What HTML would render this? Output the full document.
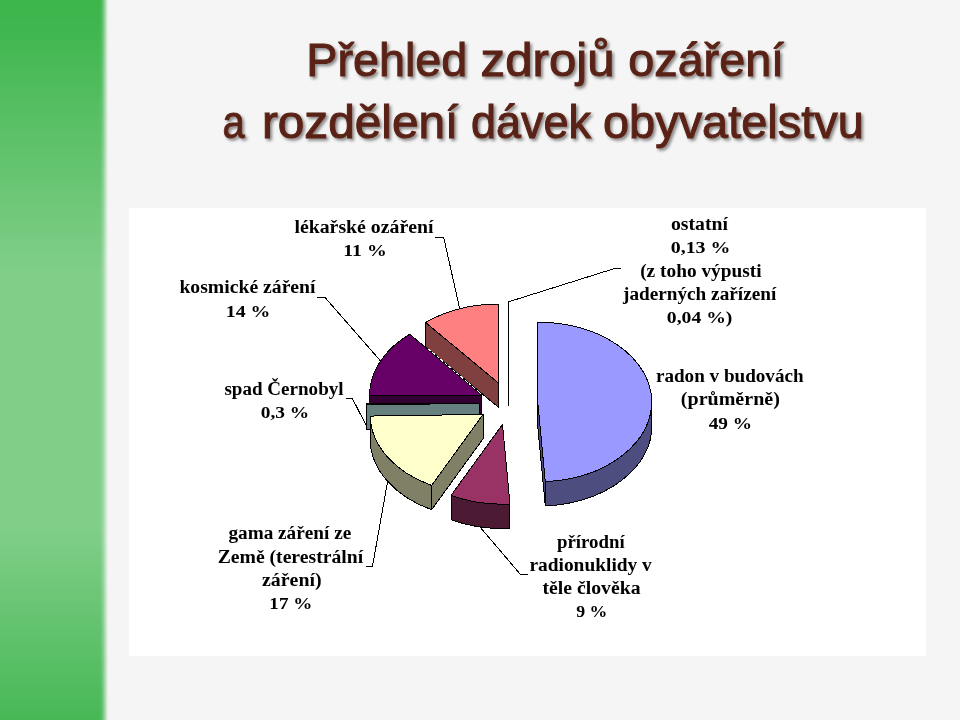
<!DOCTYPE html>
<html lang="cs"><head><meta charset="utf-8"><title>Přehled zdrojů ozáření</title>
<style>
html,body{margin:0;padding:0;}
body{width:960px;height:720px;overflow:hidden;background:#f5f5f5;position:relative;font-family:"Liberation Sans",sans-serif;}
#band{position:absolute;left:0;top:0;width:112px;height:720px;
background:linear-gradient(to bottom,#3cb54a 0px,#3fb64e 25px,#80ce88 270px,#80ce88 530px,#47b856 720px);
-webkit-mask-image:linear-gradient(to right,#000 0,#000 99.5px,rgba(0,0,0,.92) 101.5px,rgba(0,0,0,.7) 103.5px,rgba(0,0,0,.4) 105.5px,rgba(0,0,0,.15) 107px,transparent 108.6px);
mask-image:linear-gradient(to right,#000 0,#000 99.5px,rgba(0,0,0,.92) 101.5px,rgba(0,0,0,.7) 103.5px,rgba(0,0,0,.4) 105.5px,rgba(0,0,0,.15) 107px,transparent 108.6px);}
#chartbg{position:absolute;left:129px;top:208px;width:797px;height:448px;background:#fff;}
svg{position:absolute;left:0;top:0;}
.t{font-family:"Liberation Sans",sans-serif;font-size:46.5px;fill:#5a2416;stroke:#5a2416;stroke-width:1px;}
.l text{font-family:"Liberation Serif",serif;font-weight:bold;fill:#000;}
</style></head><body>
<div id="band"></div>
<div id="chartbg"></div>
<svg width="960" height="720" viewBox="0 0 960 720">
<defs><filter id="sh" x="-5%" y="-20%" width="110%" height="150%"><feDropShadow dx="2" dy="2.2" stdDeviation="1.6" flood-color="#000" flood-opacity="0.45"/></filter></defs>
<g class="t" filter="url(#sh)">
<text x="306.29" y="75.50" textLength="161.01" lengthAdjust="spacingAndGlyphs">Přehled</text>
<text x="480.64" y="75.50" textLength="133.86" lengthAdjust="spacingAndGlyphs">zdrojů</text>
<text x="628.30" y="75.50" textLength="155.81" lengthAdjust="spacingAndGlyphs">ozáření</text>
<text x="222.58" y="137.50" textLength="22.32" lengthAdjust="spacingAndGlyphs">a</text>
<text x="261.92" y="137.50" textLength="196.38" lengthAdjust="spacingAndGlyphs">rozdělení</text>
<text x="470.93" y="137.50" textLength="120.06" lengthAdjust="spacingAndGlyphs">dávek</text>
<text x="602.99" y="137.50" textLength="260.82" lengthAdjust="spacingAndGlyphs">obyvatelstvu</text>
</g>
<g id="pie" shape-rendering="crispEdges">
<line x1="508.5" y1="302" x2="508.5" y2="406.3" stroke="#000" stroke-width="1"/>
<path d="M498.60 383.10 L425.60 322.49 L425.60 346.79 L498.60 407.40 Z" fill="#804040" stroke="#000" stroke-width="1" stroke-linejoin="round"/>
<path d="M498.60 383.10 L425.60 322.49 A113.8 79.0 0 0 1 498.60 304.10 Z" fill="#FF8080" stroke="#000" stroke-width="1" stroke-linejoin="round"/>
<path d="M481.90 395.40 L369.50 395.51 L369.50 419.81 L481.90 419.70 Z" fill="#330033" stroke="#000" stroke-width="1" stroke-linejoin="round"/>
<path d="M369.50 395.51 A112.4 79.8 0 0 1 369.50 395.40 L369.50 419.70 A112.4 79.8 0 0 0 369.50 419.81 Z" fill="#330033" stroke="#000" stroke-width="1" stroke-linejoin="round"/>
<path d="M481.90 395.40 L369.50 395.51 A112.4 79.8 0 0 1 409.81 334.18 Z" fill="#660066" stroke="#000" stroke-width="1" stroke-linejoin="round"/>
<path d="M537.75 402.00 L545.31 481.62 L545.31 505.92 L537.75 426.30 Z" fill="#4D4D80" stroke="#000" stroke-width="1" stroke-linejoin="round"/>
<path d="M651.85 402.00 A114.1 79.8 0 0 1 545.31 481.62 L545.31 505.92 A114.1 79.8 0 0 0 651.85 426.30 Z" fill="#4D4D80" stroke="#000" stroke-width="1" stroke-linejoin="round"/>
<path d="M537.75 402.00 L537.75 322.20 A114.1 79.8 0 0 1 545.31 481.62 Z" fill="#9999FF" stroke="#000" stroke-width="1" stroke-linejoin="round"/>
<path d="M479.40 403.30 L366.42 404.91 L366.42 429.21 L479.40 427.60 Z" fill="#668080" stroke="#000" stroke-width="1" stroke-linejoin="round"/>
<path d="M366.42 404.91 A113.0 79.8 0 0 1 366.40 403.41 L366.40 427.71 A113.0 79.8 0 0 0 366.42 429.21 Z" fill="#668080" stroke="#000" stroke-width="1" stroke-linejoin="round"/>
<path d="M479.40 403.30 L366.42 404.91 A113.0 79.8 0 0 1 366.40 403.41 Z" fill="#CCFFFF" stroke="#000" stroke-width="1" stroke-linejoin="round"/>
<path d="M483.10 414.40 L431.62 485.44 L431.62 509.74 L483.10 438.70 Z" fill="#808066" stroke="#000" stroke-width="1" stroke-linejoin="round"/>
<path d="M431.62 485.44 A113.0 79.8 0 0 1 370.12 416.07 L370.12 440.37 A113.0 79.8 0 0 0 431.62 509.74 Z" fill="#808066" stroke="#000" stroke-width="1" stroke-linejoin="round"/>
<path d="M483.10 414.40 L431.62 485.44 A113.0 79.8 0 0 1 370.12 416.07 Z" fill="#FFFFCC" stroke="#000" stroke-width="1" stroke-linejoin="round"/>
<path d="M509.99 504.02 A113.0 79.8 0 0 1 451.02 495.44 L451.02 519.74 A113.0 79.8 0 0 0 509.99 528.32 Z" fill="#4D1A33" stroke="#000" stroke-width="1" stroke-linejoin="round"/>
<path d="M502.50 424.40 L509.99 504.02 A113.0 79.8 0 0 1 451.02 495.44 Z" fill="#993366" stroke="#000" stroke-width="1" stroke-linejoin="round"/>
<line x1="428.5" y1="349" x2="481.5" y2="394.2" stroke="#fff" stroke-width="1" stroke-dasharray="3 2.3"/>
</g>
<g id="leaders" shape-rendering="crispEdges">
<polyline points="435.00,237.50 443.75,237.50 459.50,308.00" fill="none" stroke="#000" stroke-width="1"/>
<polyline points="317.00,297.50 325.00,297.50 380.00,360.30" fill="none" stroke="#000" stroke-width="1"/>
<polyline points="345.50,398.75 352.50,398.75 367.00,427.00" fill="none" stroke="#000" stroke-width="1"/>
<polyline points="365.50,566.25 372.50,566.25 387.50,482.00" fill="none" stroke="#000" stroke-width="1"/>
<polyline points="527.50,574.50 520.50,574.50 480.00,527.00" fill="none" stroke="#000" stroke-width="1"/>
<polyline points="620.50,268.75 613.75,268.75 508.00,302.00" fill="none" stroke="#000" stroke-width="1"/>
</g>
<g class="l">
<text x="294.40" y="232.50" font-size="18" textLength="139.13" lengthAdjust="spacingAndGlyphs">lékařské ozáření</text>
<text x="343.31" y="256.25" font-size="16.6" textLength="43.38" lengthAdjust="spacingAndGlyphs">11 %</text>
<text x="179.41" y="293.00" font-size="18" textLength="136.12" lengthAdjust="spacingAndGlyphs">kosmické záření</text>
<text x="225.81" y="317.00" font-size="16.6" textLength="44.55" lengthAdjust="spacingAndGlyphs">14 %</text>
<text x="224.44" y="395.00" font-size="18" textLength="119.12" lengthAdjust="spacingAndGlyphs">spad Černobyl</text>
<text x="260.83" y="418.00" font-size="16.6" textLength="48.40" lengthAdjust="spacingAndGlyphs">0,3 %</text>
<text x="228.43" y="539.25" font-size="18" textLength="122.77" lengthAdjust="spacingAndGlyphs">gama záření ze</text>
<text x="217.66" y="562.50" font-size="18" textLength="145.48" lengthAdjust="spacingAndGlyphs">Země (terestrální</text>
<text x="262.00" y="585.50" font-size="18" textLength="59.59" lengthAdjust="spacingAndGlyphs">záření)</text>
<text x="269.35" y="608.75" font-size="16.6" textLength="42.95" lengthAdjust="spacingAndGlyphs">17 %</text>
<text x="557.00" y="547.50" font-size="18" textLength="67.67" lengthAdjust="spacingAndGlyphs">přírodní</text>
<text x="529.42" y="571.00" font-size="18" textLength="122.42" lengthAdjust="spacingAndGlyphs">radionuklidy v</text>
<text x="542.50" y="594.25" font-size="18" textLength="98.01" lengthAdjust="spacingAndGlyphs">těle člověka</text>
<text x="576.25" y="617.00" font-size="16.6" textLength="31.12" lengthAdjust="spacingAndGlyphs">9 %</text>
<text x="670.90" y="230.00" font-size="18" textLength="57.12" lengthAdjust="spacingAndGlyphs">ostatní</text>
<text x="670.80" y="252.50" font-size="16.6" textLength="59.58" lengthAdjust="spacingAndGlyphs">0,13 %</text>
<text x="640.18" y="276.75" font-size="18" textLength="121.42" lengthAdjust="spacingAndGlyphs">(z toho výpusti</text>
<text x="623.00" y="300.00" font-size="18" textLength="153.25" lengthAdjust="spacingAndGlyphs">jaderných zařízení</text>
<text x="666.81" y="322.50" font-size="16.6" textLength="65.56" lengthAdjust="spacingAndGlyphs">0,04 %)</text>
<text x="655.94" y="381.75" font-size="18" textLength="147.67" lengthAdjust="spacingAndGlyphs">radon v budovách</text>
<text x="680.89" y="405.00" font-size="18" textLength="98.96" lengthAdjust="spacingAndGlyphs">(průměrně)</text>
<text x="708.75" y="428.75" font-size="16.6" textLength="43.31" lengthAdjust="spacingAndGlyphs">49 %</text>
</g>
</svg>
</body></html>
